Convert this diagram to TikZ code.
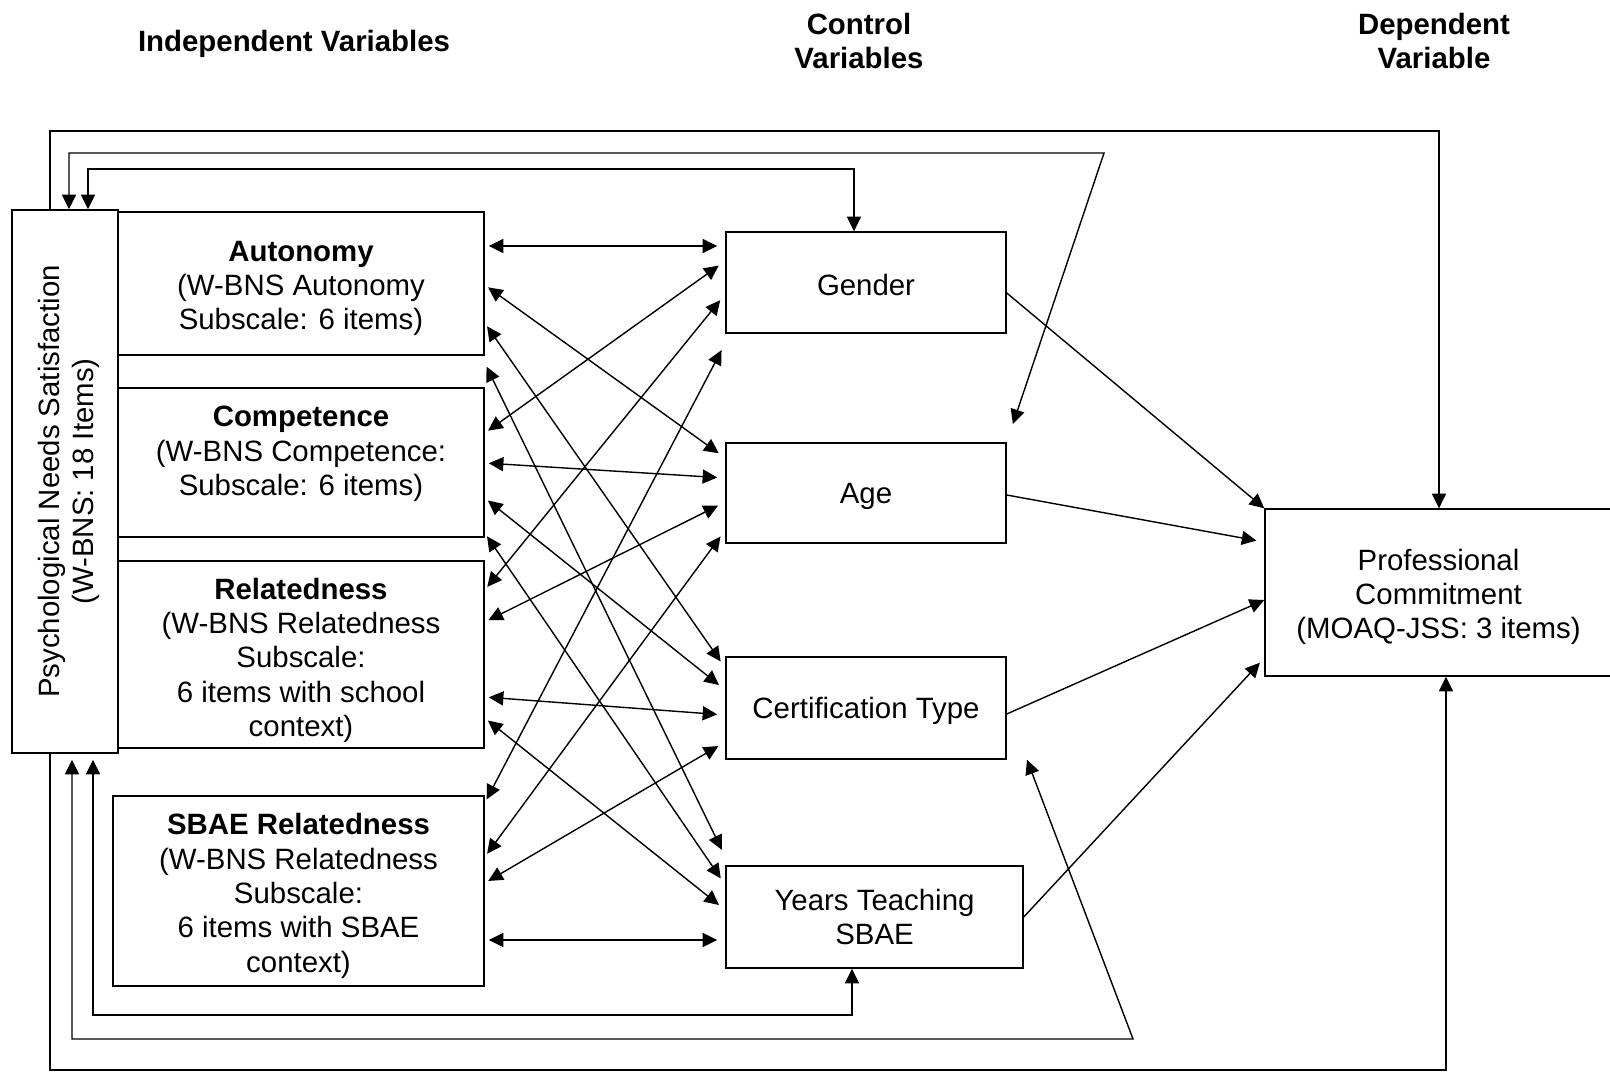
\documentclass[tikz,border=0pt]{standalone}
\usepackage{fontspec}
\setmainfont{Liberation Sans}
\usetikzlibrary{arrows.meta}
\newcommand{\lift}[1]{\rule{0pt}{#1}}

\begin{document}
\begin{tikzpicture}[
  x=0.0125cm, y=-0.0125cm,
  font=\fontsize{10.45}{12.2}\selectfont,
  box/.style={draw, line width=0.5pt, align=center, inner sep=0pt,
    execute at begin node={\lift{9.7pt}}},
  head/.style={font=\fontsize{10.45}{12.2}\selectfont\bfseries, align=center},
  arr/.style={-{Triangle[length=5.2pt, width=5pt]}, line width=0.5pt},
  dbl/.style={{Triangle[length=5.2pt, width=5pt]}-{Triangle[length=5.2pt, width=5pt]}, line width=0.5pt},
]
\useasboundingbox (0,0) rectangle (1610,1073);

% column headings
\node[head] (tind) at (294,44) {Independent Variables};
\node[head] (tctl) at (859,41) {Control\\Variables};
\node[head] (tdep) at (1434,41) {Dependent\\Variable};

% independent variables
\node[draw, line width=0.5pt, minimum width=1.325cm, minimum height=6.7875cm] (pns) at (65,481.5) {};
\node[rotate=90, align=center] (pnstxt) at (69,481.5) {Psychological Needs Satisfaction\\(W-BNS: 18 Items)};
\node[box, minimum width=4.575cm, minimum height=1.7875cm] (aut) at (301,283.5) {\lift{10.6pt}\textbf{Autonomy}\\(W-BNS Autonomy\\Subscale: 6 items)};
\node[draw, line width=0.5pt, minimum width=4.575cm, minimum height=1.8625cm] (comp) at (301,462.5) {};
\node[align=center] (comptxt) at (301,454) {\textbf{Competence}\\(W-BNS Competence:\\Subscale: 6 items)};
\node[box, minimum width=4.575cm, minimum height=2.3375cm] (rel) at (301,654.5) {\lift{11.6pt}\textbf{Relatedness}\\(W-BNS Relatedness\\Subscale:\\6 items with school\\context)};
\node[box, minimum width=4.6375cm, minimum height=2.375cm] (sbae) at (298.5,891) {\lift{11.1pt}\textbf{SBAE Relatedness}\\(W-BNS Relatedness\\Subscale:\\6 items with SBAE\\context)};

% control variables
\node[box, minimum width=3.5cm, minimum height=1.2625cm] (gen) at (866,282.5) {Gender};
\node[box, minimum width=3.5cm, minimum height=1.25cm] (age) at (866,493) {Age};
\node[box, minimum width=3.5cm, minimum height=1.275cm] (cert) at (866,708) {Certification Type};
\node[box, minimum width=3.7125cm, minimum height=1.275cm] (yrs) at (874.5,917) {Years Teaching\\SBAE};

% dependent variable
\node[box, minimum width=4.3375cm, minimum height=2.0875cm] (pc) at (1438.5,592.5) {\lift{10.6pt}Professional\\Commitment\\(MOAQ-JSS: 3 items)};

% correlations between the two columns
\foreach \l/\ly/\r/\ry in {aut/246/gen/246, aut/285/age/458, aut/323/cert/668, aut/363/yrs/857,
    comp/433/gen/261, comp/463/age/478, comp/498/cert/690, comp/533/yrs/885,
    rel/590/gen/294, rel/622/age/502, rel/697/cert/715, rel/718/yrs/910,
    sbae/803/gen/343, sbae/857/age/530, sbae/883/cert/742, sbae/940/yrs/940}
  \draw[dbl, shorten <=0.05cm, shorten >=0.1cm] (\l.east |- 0,\ly) -- (\r.west |- 0,\ry);

% controls -> commitment
\draw[arr] (gen.east |- 0,293) -- (pc.north west);
\draw[arr, shorten >=0.1cm] (age.east |- 0,495) -- (pc.west |- 0,542);
\draw[arr] (cert.east |- 0,714) -- (pc.west |- 0,600);
\draw[arr, shorten >=0.08cm] (yrs.east |- 0,917) -- (pc.west |- 0,658);

% loops over the top
\draw[arr] (pns.north -| 50,0) -- (50,131) -- (1439,131) -- (pc.north -| 1439,0);
\draw[dbl, shorten >=0.24cm] (pns.north -| 69,0) -- (69,153) -- (1104,153) -- (age.north east);
\draw[dbl] (pns.north -| 88,0) -- (88,169) -- (854,169) -- (gen.north -| 854,0);

% loops underneath
\draw[dbl, shorten <=0.075cm] (pns.south -| 93,0) -- (93,1015) -- (852,1015) -- (yrs.south -| 852,0);
\draw[dbl, shorten <=0.075cm] (pns.south -| 72,0) -- (72,1039) -- (1133,1039) -- (cert.south east -| 1027,0);
\draw[arr] (pns.south -| 50,0) -- (50,1070) -- (1446,1070) -- (pc.south -| 1446,0);

\end{tikzpicture}
\end{document}
